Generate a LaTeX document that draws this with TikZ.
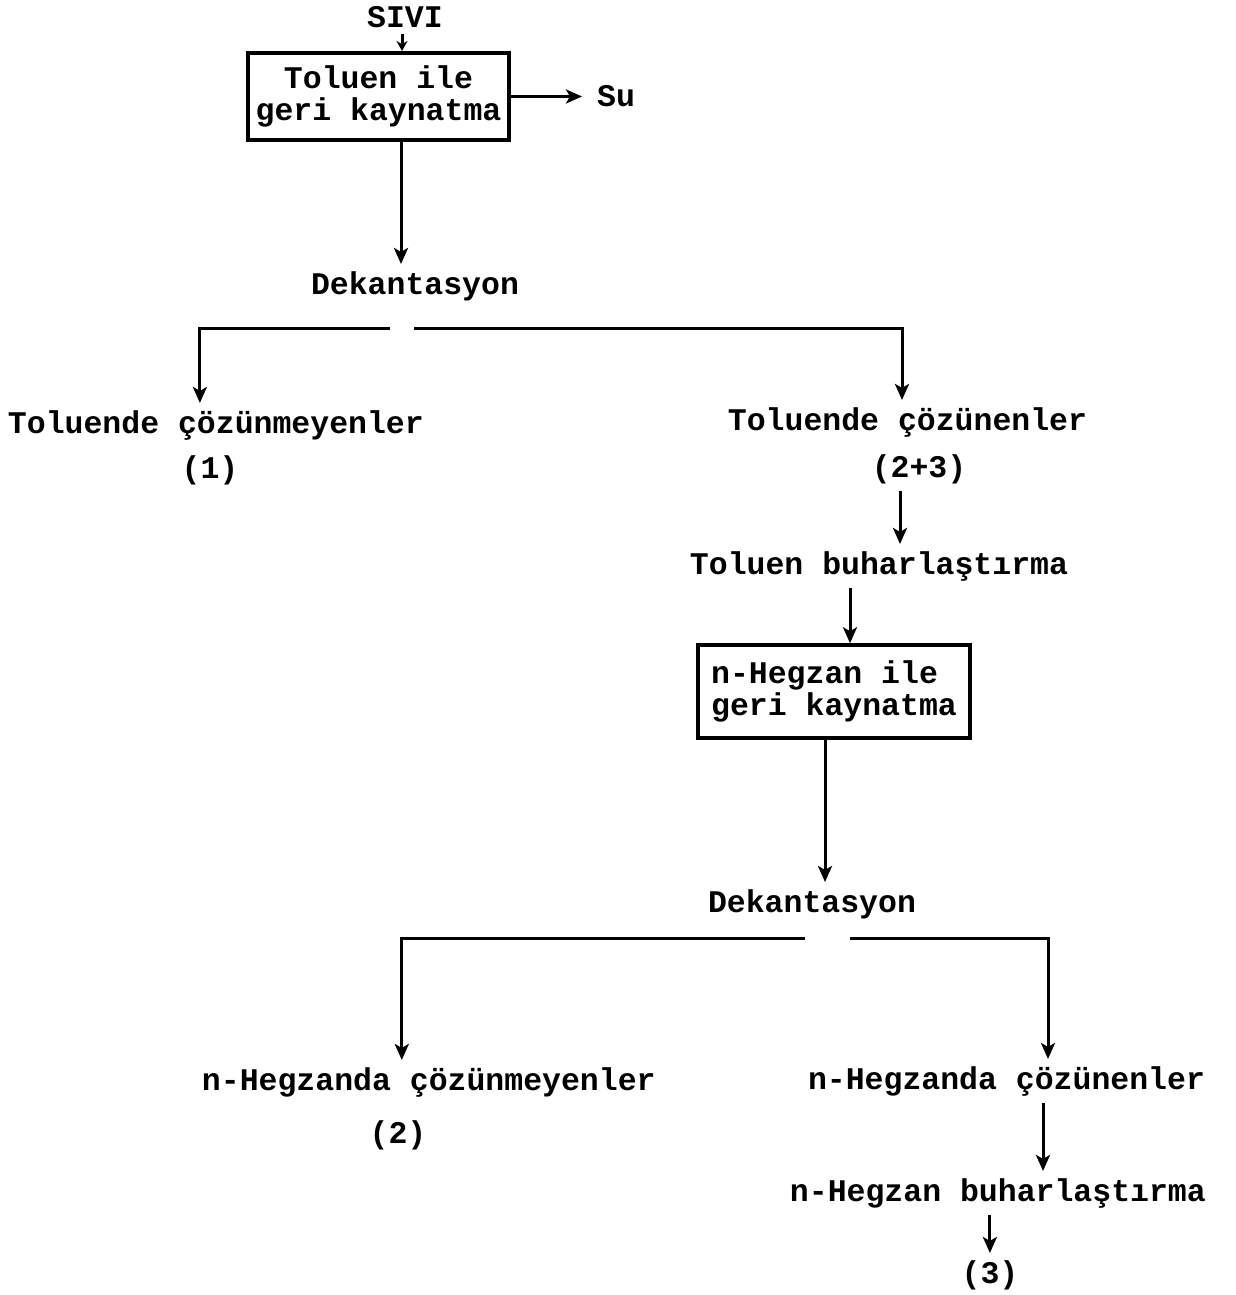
\documentclass[tikz,border=0pt]{standalone}
\usepackage{fontspec}
\newfontfamily\tw[WordSpace={1,0,0}]{Liberation Mono}
\usetikzlibrary{arrows.meta,calc}
\begin{document}
\begin{tikzpicture}[x=1pt,y=-1pt,
  txt/.style={font=\tw\bfseries\fontsize{31.5}{32}\selectfont, inner xsep=0pt, inner ysep=7pt, anchor=base},
  procbox/.style={draw, line width=4pt, font=\tw\bfseries\fontsize{31.5}{32}\selectfont, inner sep=0pt},
  arr/.style={line width=3pt, -{Stealth[length=16pt,width=14pt,inset=4pt]}},
  ln/.style={line width=3pt}]
\path[use as bounding box] (0,0) rectangle (1235,1295);

% top
\node[txt, inner ysep=5pt] (sivi) at (405,28) {SIVI};
\node[procbox, minimum width=261pt, minimum height=87pt, align=center] (box1) at (378.5,96.5) {Toluen ile\\geri kaynatma};
\node[txt, anchor=west, inner xsep=15pt, inner ysep=0pt] (su) at (582,96.5) {Su};
\node[txt] (dek1) at (415,294) {Dekantasyon};

\draw[arr, -{Stealth[length=10pt,width=11pt]}] ([xshift=-3pt]sivi.south) -- ([xshift=-3pt]sivi.south |- box1.north);
\draw[arr] (box1.east) -- (su.west);
\draw[arr] ([xshift=22.5pt]box1.south) -- ([xshift=22.5pt]box1.south |- dek1.north);

% first split
\coordinate (d1L) at (390,328);
\coordinate (d1R) at (414,328);
\node[txt] (tcz) at (215.9,433) {Toluende çözünmeyenler};
\node[txt] (p1) at (210,478) {(1)};
\node[txt] (tcn) at (907.5,430) {Toluende çözünenler};
\node[txt] (p23) at (919,477) {(2+3)};
\draw[arr] (d1L) -| ([xshift=-16pt]tcz.north);
\draw[arr] (d1R) -| ([xshift=-5.5pt]tcn.north);

% toluene evaporation
\node[txt] (tbuh) at (879,574) {Toluen buharlaştırma};
\draw[arr] ([xshift=-19pt]p23.south) -- ([xshift=-19pt]p23.south |- tbuh.north);
\node[procbox, line width=3.5pt, minimum width=272pt, minimum height=93pt, align=left] (box2) at (834,691.5) {n-Hegzan ile\\geri kaynatma};
\draw[arr] ([xshift=-29pt]tbuh.south) -- ([xshift=-29pt]tbuh.south |- box2.north);

\node[txt] (dek2) at (812,912) {Dekantasyon};
\draw[arr] ([xshift=-9pt]box2.south) -- ([xshift=-9pt]box2.south |- dek2.north);

% second split
\coordinate (d2L) at (805,938);
\coordinate (d2R) at (850,938);
\node[txt] (hcz) at (428.8,1090) {n-Hegzanda çözünmeyenler};
\node[txt] (p2) at (398,1143) {(2)};
\node[txt] (hcn) at (1006.5,1089) {n-Hegzanda çözünenler};
\draw[arr] (d2L) -| ([xshift=-27pt]hcz.north);
\draw[arr] (d2R) -| ([xshift=41.5pt]hcn.north);

\node[txt] (hbuh) at (997.9,1201) {n-Hegzan buharlaştırma};
\draw[arr] ([xshift=36.5pt]hcn.south) -- ([xshift=36.5pt]hcn.south |- hbuh.north);
\node[txt] (p3) at (990,1283) {(3)};
\draw[arr] ([xshift=-8pt]hbuh.south) -- ([xshift=-8pt]hbuh.south |- p3.north);
\end{tikzpicture}
\end{document}
